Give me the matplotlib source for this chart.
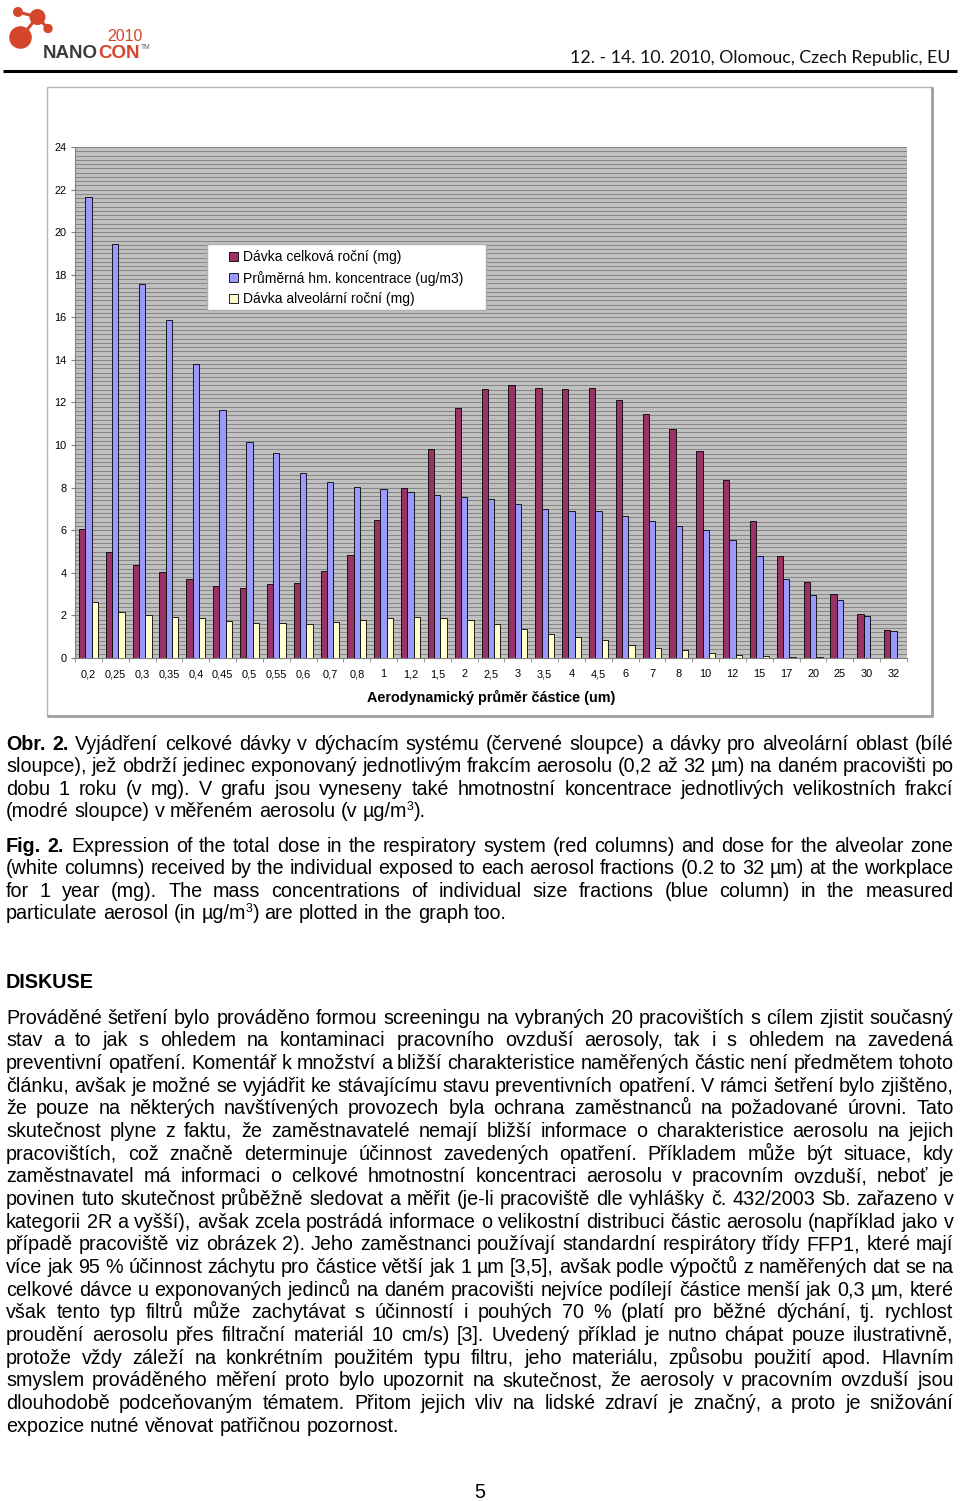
import matplotlib
matplotlib.use('Agg')
import matplotlib.pyplot as plt
import numpy as np
from matplotlib.patches import Rectangle, Circle
from matplotlib.ticker import MultipleLocator
from matplotlib import font_manager

plt.rcParams['font.family'] = ['Liberation Sans', 'DejaVu Sans']

# ---------------- data ----------------
categories = ['0,2', '0,25', '0,3', '0,35', '0,4', '0,45', '0,5', '0,55', '0,6', '0,7',
              '0,8', '1', '1,2', '1,5', '2', '2,5', '3', '3,5', '4', '4,5', '6', '7',
              '8', '10', '12', '15', '17', '20', '25', '30', '32']
total_dose = [6.06, 4.97, 4.38, 4.02, 3.72, 3.40, 3.30, 3.48, 3.52, 4.08,
              4.83, 6.47, 7.98, 9.81, 11.73, 12.63, 12.81, 12.70, 12.64, 12.70,
              12.13, 11.48, 10.77, 9.73, 8.38, 6.45, 4.77, 3.55, 3.02, 2.05, 1.30]
concentration = [21.65, 19.46, 17.57, 15.86, 13.83, 11.63, 10.16, 9.61, 8.70, 8.27,
                 8.03, 7.94, 7.80, 7.66, 7.56, 7.47, 7.23, 7.00, 6.89, 6.89,
                 6.67, 6.44, 6.22, 6.00, 5.53, 4.77, 3.72, 2.94, 2.73, 1.95, 1.27]
alveolar = [2.61, 2.16, 2.00, 1.94, 1.88, 1.73, 1.63, 1.66, 1.59, 1.69,
            1.77, 1.88, 1.94, 1.89, 1.77, 1.59, 1.38, 1.14, 1.00, 0.86,
            0.59, 0.48, 0.38, 0.23, 0.16, 0.11, 0.06, 0.05, 0.02, 0.0, 0.0]
series_labels = ['Dávka celková roční (mg)', 'Průměrná hm. koncentrace (ug/m3)',
                 'Dávka alveolární roční (mg)']
series_colors = ['#993366', '#9999FF', '#FFFFCC']
y_ticks = list(range(0, 25, 2))
x_label = 'Aerodynamický průměr částice (um)'

header_date = '12. - 14. 10. 2010, Olomouc, Czech Republic, EU'

caption_cz = [
    "**Obr.** **2.** Vyjádření celkové dávky v dýchacím systému (červené sloupce) a dávky pro alveolární oblast (bílé",
    "sloupce), jež obdrží jedinec exponovaný jednotlivým frakcím aerosolu (0,2 až 32 µm) na daném pracovišti po",
    "dobu 1 roku (v mg). V grafu jsou vyneseny také hmotnostní koncentrace jednotlivých velikostních frakcí",
    "(modré sloupce) v měřeném aerosolu (v µg/m^3).",
]
caption_en = [
    "**Fig.** **2.** Expression of the total dose in the respiratory system (red columns) and dose for the alveolar zone",
    "(white columns) received by the individual exposed to each aerosol fractions (0.2 to 32 µm) at the workplace",
    "for 1 year (mg). The mass concentrations of individual size fractions (blue column) in the measured",
    "particulate aerosol (in µg/m^3) are plotted in the graph too.",
]
section_title = "DISKUSE"
body = [
    "Prováděné šetření bylo prováděno formou screeningu na vybraných 20 pracovištích s cílem zjistit současný",
    "stav a to jak s ohledem na kontaminaci pracovního ovzduší aerosoly, tak i s ohledem na zavedená",
    "preventivní opatření. Komentář k množství a bližší charakteristice naměřených částic není předmětem tohoto",
    "článku, avšak je možné se vyjádřit ke stávajícímu stavu preventivních opatření. V rámci šetření bylo zjištěno,",
    "že pouze na některých navštívených provozech byla ochrana zaměstnanců na požadované úrovni. Tato",
    "skutečnost plyne z faktu, že zaměstnavatelé nemají bližší informace o charakteristice aerosolu na jejich",
    "pracovištích, což značně determinuje účinnost zavedených opatření. Příkladem může být situace, kdy",
    "zaměstnavatel má informaci o celkové hmotnostní koncentraci aerosolu v pracovním ovzduší, neboť je",
    "povinen tuto skutečnost průběžně sledovat a měřit (je-li pracoviště dle vyhlášky č. 432/2003 Sb. zařazeno v",
    "kategorii 2R a vyšší), avšak zcela postrádá informace o velikostní distribuci částic aerosolu (například jako v",
    "případě pracoviště viz obrázek 2). Jeho zaměstnanci používají standardní respirátory třídy FFP1, které mají",
    "více jak 95 % účinnost záchytu pro částice větší jak 1 µm [3,5], avšak podle výpočtů z naměřených dat se na",
    "celkové dávce u exponovaných jedinců na daném pracovišti nejvíce podílejí částice menší jak 0,3 µm, které",
    "však tento typ filtrů může zachytávat s účinností i pouhých 70 % (platí pro běžné dýchání, tj. rychlost",
    "proudění aerosolu přes filtrační materiál 10 cm/s) [3]. Uvedený příklad je nutno chápat pouze ilustrativně,",
    "protože vždy záleží na konkrétním použitém typu filtru, jeho materiálu, způsobu použití apod. Hlavním",
    "smyslem prováděného měření proto bylo upozornit na skutečnost, že aerosoly v pracovním ovzduší jsou",
    "dlouhodobě podceňovaným tématem. Přitom jejich vliv na lidské zdraví je značný, a proto je snižování",
    "expozice nutné věnovat patřičnou pozornost.",
]
page_number = "5"

# ---------------- figure ----------------
W, H = 960, 1501
fig = plt.figure(figsize=(W / 100, H / 100), dpi=100)
fig.patch.set_facecolor('white')

bg = fig.add_axes([0, 0, 1, 1], zorder=0)
bg.set_xlim(0, W); bg.set_ylim(H, 0); bg.axis('off')
ov = fig.add_axes([0, 0, 1, 1], zorder=5)
ov.set_xlim(0, W); ov.set_ylim(H, 0); ov.axis('off')

# chart frame
FL, FT, FR, FB = 47, 87, 932, 716
bg.add_patch(Rectangle((FL, FT), FR - FL, FB - FT, facecolor='white', edgecolor='#b4b4b4', lw=1.0))
bg.plot([FR, FR], [FT, FB + 1], color='#a0a0a0', lw=2.0, solid_capstyle='butt')
bg.plot([FL, FR + 1], [FB, FB], color='#a0a0a0', lw=2.0, solid_capstyle='butt')

# chart axes
PL, PT, PR, PB = 75, 147, 907, 658
ax = fig.add_axes([PL / W, 1 - PB / H, (PR - PL) / W, (PB - PT) / H], zorder=2)
ax.set_facecolor('#C0C0C0')
x = np.arange(len(categories))
bw = 0.235
for off, vals, col, lab in zip([-bw, 0, bw], [total_dose, concentration, alveolar],
                               series_colors, series_labels):
    ax.bar(x + off, vals, bw, color=col, edgecolor='black', lw=0.6, label=lab, zorder=3)
ax.set_xlim(-0.5, len(categories) - 0.5)
ax.set_ylim(0, 24)
for s in ['top', 'right']:
    ax.spines[s].set_visible(False)
for s in ['left', 'bottom']:
    ax.spines[s].set_color('#808080')
    ax.spines[s].set_linewidth(0.8)
ax.set_yticks(y_ticks)
ax.yaxis.set_minor_locator(MultipleLocator(0.2))
ax.grid(axis='y', which='both', color='#858585', lw=0.7)
ax.set_axisbelow(True)
ax.tick_params(axis='y', which='major', length=3, color='#808080', pad=3, labelsize=7.9)
ax.tick_params(axis='y', which='minor', length=0)
ax.set_xticks(x)
ax.set_xticklabels(categories)
ax.set_xticks(np.arange(-0.5, len(categories), 1), minor=True)
ax.tick_params(axis='x', which='major', length=0, pad=8, labelsize=7.9)
ax.tick_params(axis='x', which='minor', length=3, color='#808080')
ax.set_xlabel(x_label, fontsize=10.4, fontweight='bold')
ax.xaxis.set_label_coords(0.5, -(697 - PB) / (PB - PT))
ax.xaxis.label.set_va('center')

# legend (drawn in page pixel coordinates)
LX0, LY0, LX1, LY1 = 207, 244, 486, 310
ov.add_patch(Rectangle((LX0, LY0), LX1 - LX0, LY1 - LY0, facecolor='white',
                       edgecolor='#b0b0b0', lw=1.0))
for i, (lab, col) in enumerate(zip(series_labels, series_colors)):
    cy = 256.5 + 21 * i
    ov.add_patch(Rectangle((229, cy - 4.5), 9, 9, facecolor=col, edgecolor='black', lw=0.6))
    ov.text(243, cy + 1, lab, fontsize=10.0, va='center', ha='left')

# ---------------- header ----------------
logo_red = '#d5452b'
circles = [(20.5, 37.5, 11.3), (37.5, 17, 8), (18, 12, 5), (48, 28.5, 4.7)]
links = [((18, 12), (37.5, 17)), ((37.5, 17), (20.5, 37.5)), ((37.5, 17), (48, 28.5))]
for (a, b) in links:
    ov.plot([a[0], b[0]], [a[1], b[1]], color=logo_red, lw=2.2, solid_capstyle='round')
for cx, cy, r in circles:
    ov.add_patch(Circle((cx, cy), r, color=logo_red, lw=0))

renderer = fig.canvas.get_renderer()


def text_width(s, size, weight='normal', family=None):
    kw = {}
    if family:
        kw['family'] = family
    t = ov.text(0, 0, s, fontsize=size, fontweight=weight, **kw)
    w = t.get_window_extent(renderer).width
    t.remove()
    return w


logo_family = ['Liberation Sans', 'DejaVu Sans']
try:
    font_manager.findfont('Liberation Sans Narrow', fallback_to_default=False)
    logo_family = ['Liberation Sans Narrow', 'Liberation Sans']
    nf = 14.5
except Exception:
    nf = 13.5

ov.text(107, 41, '2010', fontsize=11.5, color=logo_red, va='baseline', ha='left')
w_all = text_width('NANOCON', nf, 'bold', logo_family)
w_con = text_width('CON', nf, 'bold', logo_family)
ov.text(43, 58, 'NANO', fontsize=nf, fontweight='bold', family=logo_family,
        color='#3c3c3c', va='baseline')
ov.text(43 + w_all - w_con, 58, 'CON', fontsize=nf, fontweight='bold', family=logo_family,
        color=logo_red, va='baseline')
ov.text(43 + w_all + 1.5, 49, 'TM', fontsize=4.8, color='#666666', va='baseline')

df = 13.0
wd = text_width(header_date, df, family=['Lato', 'DejaVu Sans'])
df *= 380 / wd
ov.text(570, 63, header_date, fontsize=df, family=['Lato', 'DejaVu Sans'],
        color='#111111', va='baseline', ha='left')
ov.plot([3, 957], [70.5, 70.5], color='black', lw=2.2, solid_capstyle='butt')

# ---------------- body text ----------------
X0, X1 = 6, 953.5
fs = 13.0
fs *= 390 / text_width(body[-1], fs)


def style(kind):
    if kind == 'b':
        return dict(fontsize=fs, fontweight='bold'), 0
    if kind == 's':
        return dict(fontsize=fs * 0.62), -7.5
    return dict(fontsize=fs), 0


def parse_word(w):
    bold = w.startswith('**') and w.endswith('**') and len(w) > 4
    if bold:
        w = w[2:-2]
    base = 'b' if bold else 'n'
    parts = w.split('^')
    runs = [(parts[0], base)]
    for p in parts[1:]:
        runs.append((p[0], 's'))
        if p[1:]:
            runs.append((p[1:], base))
    return [r for r in runs if r[0]]


space_w = text_width('x x', fs) - text_width('xx', fs)


def draw_line(line, yb, justify):
    words = [parse_word(w) for w in line.split(' ')]
    wws = []
    for runs in words:
        tot = 0
        for txt, kind in runs:
            st, _ = style(kind)
            tot += text_width(txt, st['fontsize'], st.get('fontweight', 'normal'))
        wws.append(tot)
    if justify and len(words) > 1:
        gap = (X1 - X0 - sum(wws)) / (len(words) - 1)
    else:
        gap = space_w
    xx = X0
    for runs in words:
        for txt, kind in runs:
            st, dy = style(kind)
            t = ov.text(xx, yb + dy, txt, va='baseline', ha='left', color='black', **st)
            xx += t.get_window_extent(renderer).width
        xx += gap


def draw_paragraph(lines, y0, step=22.65):
    for i, ln in enumerate(lines):
        draw_line(ln, y0 + i * step, justify=(i < len(lines) - 1))


draw_paragraph(caption_cz, 749.5)
draw_paragraph(caption_en, 851.5)
ov.text(X0, 988.5, section_title, fontsize=fs, fontweight='bold', va='baseline', ha='left')
draw_paragraph(body, 1023.5, step=22.67)
ov.text(480, 1498.5, page_number, fontsize=fs, va='baseline', ha='center')

fig.savefig('out.png', dpi=100, facecolor='white')
